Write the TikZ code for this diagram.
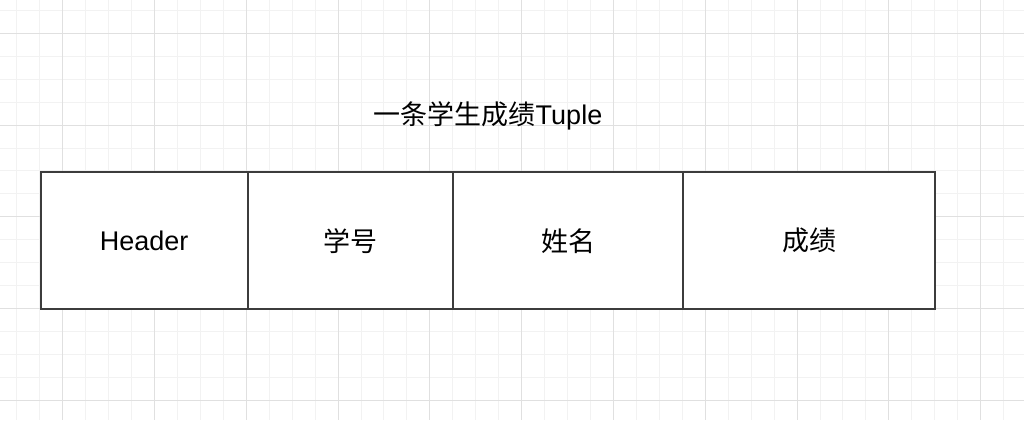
\documentclass[tikz,border=0pt]{standalone}
\usepackage{fontspec}
\setmainfont{Liberation Sans}
\newfontfamily\cjk{Noto Sans CJK SC}
\begin{document}
\begin{tikzpicture}[x=1pt,y=-1pt,
  minorline/.style={draw={rgb,255:red,242;green,242;blue,242},line width=1pt},
  majorline/.style={draw={rgb,255:red,224;green,224;blue,224},line width=1pt},
  cell/.style={rectangle,draw={rgb,255:red,60;green,60;blue,60},line width=1.8pt,fill=white,
    minimum height=137pt,inner sep=0pt,font=\fontsize{27}{32}\selectfont},
  titletext/.style={font=\fontsize{27}{32}\selectfont,inner sep=0pt}]
\useasboundingbox (0,0) rectangle (1024,420);
\fill[white] (0,0) rectangle (1024,420);
% grid
\foreach \k in {0,...,45} {
  \pgfmathsetmacro\xx{-6.2+22.95*\k}
  \draw[minorline] (\xx,0) -- (\xx,420);
}
\foreach \k in {0,...,18} {
  \pgfmathsetmacro\yy{10.3+22.95*\k}
  \draw[minorline] (0,\yy) -- (1024,\yy);
}
\foreach \k in {0,...,11} {
  \pgfmathsetmacro\xx{62.7+91.8*\k}
  \draw[majorline] (\xx,0) -- (\xx,420);
}
\foreach \k in {0,...,4} {
  \pgfmathsetmacro\yy{33.3+91.8*\k}
  \draw[majorline] (0,\yy) -- (1024,\yy);
}
% title
\node[titletext] (title) at (488,116) {{\cjk 一条学生成绩}Tuple};
% cells
\node[cell,minimum width=207pt] (header) at (144.2,240.8) {Header};
\node[cell,minimum width=205.3pt] (xuehao) at (350.35,240.8) {\cjk 学号};
\node[cell,minimum width=230pt] (xingming) at (568,240.8) {\cjk 姓名};
\node[cell,minimum width=252.3pt] (chengji) at (809.15,240.8) {\cjk 成绩};
\end{tikzpicture}
\end{document}
